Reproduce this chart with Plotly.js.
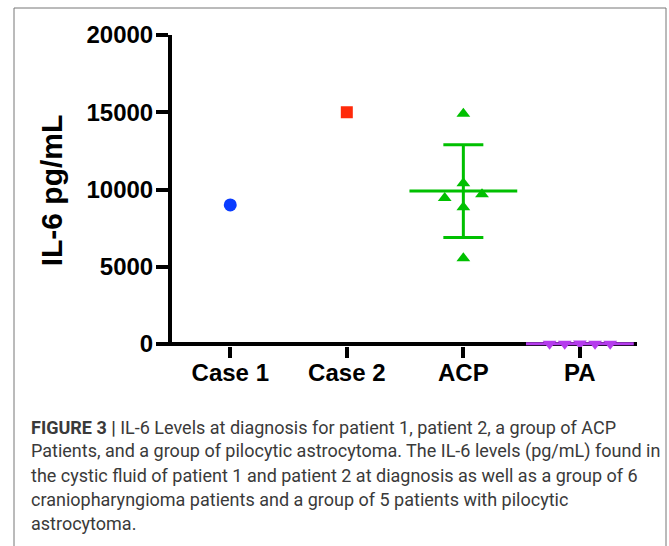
<!DOCTYPE html>
<html>
<head>
<meta charset="utf-8">
<script src="https://cdn.plot.ly/plotly-3.0.1.min.js"></script>
<style>
  html, body { margin: 0; padding: 0; background: #ffffff; }
  #chart { width: 669px; height: 546px; }
</style>
</head>
<body>
<div id="chart"></div>
<script>
// ---- Data ----
const categories = ["Case 1", "Case 2", "ACP", "PA"];
const case1Values = [9000];
const case2Values = [15000];
const acpValues = [14900, 10400, 9450, 9700, 8850, 5550];
const paValues = [20, 15, 25, 20, 18];
const acpMean = [9900];
const acpSD = [3000];
const paMean = [20];
const yTicks = [0, 5000, 10000, 15000, 20000];
const captionLines = [
  "<b>FIGURE 3 |</b> IL-6 Levels at diagnosis for patient 1, patient 2, a group of ACP",
  "Patients, and a group of pilocytic astrocytoma. The IL-6 levels (pg/mL) found in",
  "the cystic fluid of patient 1 and patient 2 at diagnosis as well as a group of 6",
  "craniopharyngioma patients and a group of 5 patients with pilocytic",
  "astrocytoma."
];

// horizontal scatter of the points inside a column (category units)
const acpJitter = [0, 0, -0.16, 0.16, 0, 0];
const paJitter = [-0.26, -0.13, 0, 0.13, 0.26];

const catIndex = name => categories.indexOf(name);

const blue = "#0a3cff", red = "#ff2a0a", green = "#00c000", purple = "#b53ced";

const traces = [
  {
    x: case1Values.map(() => catIndex("Case 1")), y: case1Values,
    type: "scatter", mode: "markers", name: "Case 1",
    marker: { symbol: "circle", size: 13, color: blue }
  },
  {
    x: case2Values.map(() => catIndex("Case 2")), y: case2Values,
    type: "scatter", mode: "markers", name: "Case 2",
    marker: { symbol: "square", size: 12, color: red }
  },
  {
    x: [catIndex("ACP")], y: acpMean,
    type: "scatter", mode: "markers", name: "ACP mean ± SD",
    marker: { symbol: "line-ew-open", size: 77, color: green, line: { width: 3, color: green } },
    error_y: { type: "data", array: acpSD, visible: true, color: green, thickness: 3, width: 20 }
  },
  {
    x: acpValues.map((v, i) => catIndex("ACP") + acpJitter[i]), y: acpValues,
    type: "scatter", mode: "markers", name: "ACP",
    marker: { symbol: "triangle-up", size: 12, color: green }
  },
  {
    x: [catIndex("PA")], y: paMean,
    type: "scatter", mode: "markers", name: "PA mean", cliponaxis: false,
    marker: { symbol: "line-ew-open", size: 77, color: purple, line: { width: 3, color: purple } }
  },
  {
    x: paValues.map((v, i) => catIndex("PA") + paJitter[i]), y: paValues,
    type: "scatter", mode: "markers", name: "PA", cliponaxis: false,
    marker: { symbol: "triangle-down", size: 12, color: purple }
  }
];

// plot area geometry (px)
const W = 669, H = 546;
const mL = 172, mR = 32, mT = 35, mB = 200;
const pw = W - mL - mR, ph = H - mT - mB;
const px2paperX = px => (px - mL) / pw;
const px2paperY = py => (H - mB - py) / ph;

const captionFont = { family: "Roboto, sans-serif", size: 18, color: "#3a3a3a" };
const captionAnnotations = captionLines.map((t, i) => ({
  text: t, xref: "paper", yref: "paper",
  x: px2paperX(29), y: px2paperY(427 + i * 24),
  xanchor: "left", yanchor: "middle", showarrow: false, align: "left",
  font: captionFont
}));

const boldFont = (size) => ({ family: "Liberation Sans, Arial, sans-serif", size: size, weight: "bold", color: "#000000" });

const layout = {
  width: W, height: H,
  margin: { l: mL, r: mR, t: mT, b: mB },
  paper_bgcolor: "#ffffff", plot_bgcolor: "#ffffff",
  showlegend: false,
  font: { family: "Liberation Sans, Arial, sans-serif", color: "#000000" },
  xaxis: {
    range: [-0.5, 3.49],
    tickmode: "array", tickvals: categories.map((c, i) => i), ticktext: categories,
    showgrid: false, zeroline: false, showline: false,
    ticks: "outside", ticklen: 11, tickwidth: 4, tickcolor: "#000000",
    ticklabelstandoff: -6,
    tickfont: boldFont(24)
  },
  yaxis: {
    range: [-129, 20000],
    tickmode: "array", tickvals: yTicks, ticktext: yTicks.map(String),
    showgrid: false,
    zeroline: true, zerolinewidth: 4, zerolinecolor: "#000000",
    showline: true, linewidth: 4, linecolor: "#000000",
    ticks: "outside", ticklen: 12, tickwidth: 4, tickcolor: "#000000",
    ticklabelstandoff: -2,
    tickfont: boldFont(24),
    title: { text: "IL-6 pg/mL", standoff: 16, font: boldFont(30) }
  },
  shapes: [
    { type: "rect", xref: "paper", yref: "paper",
      x0: px2paperX(14), x1: px2paperX(666), y0: px2paperY(560), y1: px2paperY(8),
      line: { color: "#777777", width: 1 }, fillcolor: "rgba(0,0,0,0)", layer: "below" }
  ],
  annotations: captionAnnotations
};

Plotly.newPlot("chart", traces, layout, { staticPlot: true, displayModeBar: false });
</script>
</body>
</html>
